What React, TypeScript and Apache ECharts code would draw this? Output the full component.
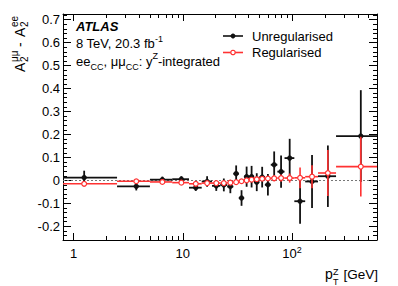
import React, { useEffect, useRef } from 'react';
import * as echarts from 'echarts';

// pT(Z) bin edges [GeV]
const binEdges = [0, 2.5, 5, 8, 11.4, 14.9, 18.5, 22, 25.5, 29, 32.6, 36.4, 40.4, 44.9, 50.2, 56.4, 63.9, 73.4, 85.4, 105, 132, 173, 253, 600];
// Unregularised A2(mumu) - A2(ee)
const unregValues = [0.012, -0.026, 0.003, 0.005, -0.032, -0.005, -0.024, -0.02, -0.027, 0.029, -0.077, 0.016, 0.016, -0.008, 0.014, -0.019, 0.068, 0.038, 0.097, -0.091, -0.005, 0.018, 0.193];
const unregErrors = [0.03, 0.018, 0.013, 0.013, 0.014, 0.023, 0.022, 0.028, 0.029, 0.036, 0.034, 0.044, 0.047, 0.039, 0.045, 0.047, 0.058, 0.07, 0.084, 0.098, 0.115, 0.134, 0.2];
// Regularised
const regValues = [-0.015, -0.004, -0.007, -0.01, -0.015, -0.012, -0.012, -0.012, -0.01, -0.008, -0.004, 0.0, 0.003, 0.005, 0.007, 0.008, 0.009, 0.01, 0.01, 0.011, 0.016, 0.032, 0.06];
const regErrors = [0.012, 0.006, 0.005, 0.005, 0.006, 0.006, 0.006, 0.006, 0.007, 0.007, 0.008, 0.008, 0.009, 0.009, 0.01, 0.011, 0.013, 0.016, 0.02, 0.045, 0.05, 0.1, 0.13];

const xMajorTicks = [1, 10, 100];
const xMinorTicks = [2, 3, 4, 5, 6, 7, 8, 9, 20, 30, 40, 50, 60, 70, 80, 90, 200, 300, 400, 500, 600];
const yMajorTicks = [-0.2, -0.1, 0, 0.1, 0.2, 0.3, 0.4, 0.5, 0.6, 0.7];

const X_MIN = 0.8;
const X_MAX = 600;
const Y_MIN = -0.26;
const Y_MAX = 0.725;

const FONT = "'Liberation Sans', Arial, Helvetica, sans-serif";
const RED = '#ff3232';
const BLACK = '#111111';

function buildData(values: number[], errors: number[]) {
  return values.map((v, i) => {
    const lo = binEdges[i];
    const hi = binEdges[i + 1];
    return [(lo + hi) / 2, v, lo, hi, errors[i]];
  });
}

function makeRender(color: string, filled: boolean, lw: number) {
  return (params: any, api: any) => {
    const x = api.value(0);
    const y = api.value(1);
    const lo = Math.max(api.value(2), X_MIN);
    const hi = Math.min(api.value(3), X_MAX);
    const err = api.value(4);
    const pL = api.coord([lo, y]);
    const pR = api.coord([hi, y]);
    const pT = api.coord([x, y + err]);
    const pB = api.coord([x, y - err]);
    const c = api.coord([x, y]);
    return {
      type: 'group',
      children: [
        { type: 'line', shape: { x1: pL[0], y1: pL[1], x2: pR[0], y2: pR[1] }, style: { stroke: color, lineWidth: lw } },
        { type: 'line', shape: { x1: pT[0], y1: pT[1], x2: pB[0], y2: pB[1] }, style: { stroke: color, lineWidth: lw } },
        {
          type: 'circle',
          shape: { cx: c[0], cy: c[1], r: 2.4 },
          style: { fill: filled ? color : '#ffffff', stroke: color, lineWidth: filled ? 0.5 : 1.2 },
        },
      ],
    };
  };
}

const minorY: number[] = [];
for (let i = -13; i <= 36; i++) minorY.push(Math.round(i * 2) / 100);

function xAxisDef(position: string, major: boolean, showLine: boolean, showLabel: boolean) {
  return {
    type: 'log',
    logBase: 10,
    gridIndex: 0,
    position,
    min: X_MIN,
    max: X_MAX,
    axisLine: { show: showLine, onZero: false, lineStyle: { color: '#000', width: 1 } },
    axisTick: {
      show: true,
      inside: true,
      length: major ? 7 : 4,
      customValues: major ? xMajorTicks : xMinorTicks,
      lineStyle: { color: '#000', width: 1 },
    },
    axisLabel: showLabel
      ? {
          show: true,
          customValues: xMajorTicks,
          formatter: (v: number) => (Math.abs(v - 100) < 1e-6 ? '10{sup|2}' : String(Math.round(v))),
          color: '#000',
          fontSize: 13,
          fontFamily: FONT,
          margin: 5,
          lineHeight: 16,
          rich: { sup: { fontSize: 9, lineHeight: 12, verticalAlign: 'top', fontFamily: FONT, color: '#000' } },
        }
      : { show: false },
    splitLine: { show: false },
    minorTick: { show: false },
  };
}

function yAxisDef(position: string, major: boolean, showLine: boolean, showLabel: boolean) {
  return {
    type: 'value',
    gridIndex: 0,
    position,
    min: Y_MIN,
    max: Y_MAX,
    axisLine: { show: showLine, onZero: false, lineStyle: { color: '#000', width: 1 } },
    axisTick: {
      show: true,
      inside: true,
      length: major ? 8 : 4,
      customValues: major ? yMajorTicks : minorY,
      lineStyle: { color: '#000', width: 1 },
    },
    axisLabel: showLabel
      ? {
          show: true,
          customValues: yMajorTicks,
          formatter: (v: number) => String(Math.round(v * 10) / 10),
          color: '#000',
          fontSize: 13,
          fontFamily: FONT,
          margin: 3,
        }
      : { show: false },
    splitLine: { show: false },
    minorTick: { show: false },
  };
}

export default function App() {
  const ref = useRef<HTMLDivElement>(null);

  useEffect(() => {
    if (!ref.current) return;
    const chart = echarts.init(ref.current, undefined, { renderer: 'svg' });

    const textBase = { fill: '#000', fontFamily: FONT };

    const option: any = {
      animation: false,
      backgroundColor: '#ffffff',
      textStyle: { fontFamily: FONT },
      grid: { left: 63, right: 21, top: 14, bottom: 46, containLabel: false },
      xAxis: [
        xAxisDef('bottom', true, true, true),
        xAxisDef('bottom', false, false, false),
        xAxisDef('top', true, true, false),
        xAxisDef('top', false, false, false),
      ],
      yAxis: [
        yAxisDef('left', true, true, true),
        yAxisDef('left', false, false, false),
        yAxisDef('right', true, true, false),
        yAxisDef('right', false, false, false),
      ],
      series: [
        {
          name: 'Unregularised',
          type: 'custom',
          xAxisIndex: 0,
          yAxisIndex: 0,
          encode: { x: 0, y: 1 },
          data: buildData(unregValues, unregErrors),
          renderItem: makeRender(BLACK, true, 1.8),
          z: 3,
          markLine: {
            silent: true,
            symbol: ['none', 'none'],
            label: { show: false },
            lineStyle: { type: [2, 2], color: '#777', width: 1 },
            data: [{ yAxis: 0 }],
            z: 1,
          },
        },
        {
          name: 'Regularised',
          type: 'custom',
          xAxisIndex: 0,
          yAxisIndex: 0,
          encode: { x: 0, y: 1 },
          data: buildData(regValues, regErrors),
          renderItem: makeRender(RED, false, 1.6),
          z: 4,
        },
      ],
      graphic: [
        // y-axis title (rotated)
        {
          type: 'group',
          x: 25,
          y: 72,
          rotation: Math.PI / 2,
          children: [
            { type: 'text', x: 0, y: -4.9, style: { ...textBase, text: 'A', fontSize: 14, align: 'left', verticalAlign: 'middle' } },
            { type: 'text', x: 10, y: -10.5, style: { ...textBase, text: 'μμ', fontSize: 10, align: 'left', verticalAlign: 'middle' } },
            { type: 'text', x: 10, y: -0.5, style: { ...textBase, text: '2', fontSize: 10, align: 'left', verticalAlign: 'middle' } },
            { type: 'text', x: 25, y: -4.9, style: { ...textBase, text: '-', fontSize: 14, align: 'left', verticalAlign: 'middle' } },
            { type: 'text', x: 35, y: -4.9, style: { ...textBase, text: 'A', fontSize: 14, align: 'left', verticalAlign: 'middle' } },
            { type: 'text', x: 45, y: -10.5, style: { ...textBase, text: 'ee', fontSize: 10, align: 'left', verticalAlign: 'middle' } },
            { type: 'text', x: 45, y: -0.5, style: { ...textBase, text: '2', fontSize: 10, align: 'left', verticalAlign: 'middle' } },
          ],
        },
        // x-axis title
        { type: 'text', x: 325, y: 274.2, style: { ...textBase, text: 'p', fontSize: 14, align: 'left', verticalAlign: 'middle' } },
        { type: 'text', x: 333, y: 271.8, style: { ...textBase, text: 'Z', fontSize: 9, align: 'left', verticalAlign: 'middle' } },
        { type: 'text', x: 333, y: 281.5, style: { ...textBase, text: 'T', fontSize: 9, align: 'left', verticalAlign: 'middle' } },
        { type: 'text', x: 378, y: 274.2, style: { ...textBase, text: '[GeV]', fontSize: 13.5, align: 'right', verticalAlign: 'middle' } },
        // ATLAS label block
        {
          type: 'text',
          x: 76,
          y: 26,
          style: { ...textBase, text: 'ATLAS', fontSize: 13, fontWeight: 'bold', fontStyle: 'italic', align: 'left', verticalAlign: 'middle' },
        },
        {
          type: 'text',
          x: 76,
          y: 43.5,
          style: {
            ...textBase,
            text: '8 TeV, 20.3 fb{sup|-1}',
            fontSize: 13,
            lineHeight: 18,
            align: 'left',
            verticalAlign: 'middle',
            rich: { sup: { fontSize: 9, lineHeight: 10, verticalAlign: 'top', fontFamily: FONT, fill: '#000' } },
          },
        },
        {
          type: 'text',
          x: 76,
          y: 61.5,
          style: {
            ...textBase,
            text: 'ee{sub|CC}, μμ{sub|CC}: y{sup|Z}-integrated',
            fontSize: 13,
            lineHeight: 20,
            align: 'left',
            verticalAlign: 'middle',
            rich: {
              sub: { fontSize: 9, lineHeight: 10, verticalAlign: 'bottom', fontFamily: FONT, fill: '#000' },
              sup: { fontSize: 9, lineHeight: 10, verticalAlign: 'top', fontFamily: FONT, fill: '#000' },
            },
          },
        },
        // Legend
        { type: 'line', shape: { x1: 223, y1: 36, x2: 243, y2: 36 }, style: { stroke: BLACK, lineWidth: 1.6 } },
        { type: 'circle', shape: { cx: 233, cy: 36, r: 2.2 }, style: { fill: BLACK, stroke: BLACK, lineWidth: 0.5 } },
        { type: 'text', x: 252, y: 36, style: { ...textBase, text: 'Unregularised', fontSize: 13, align: 'left', verticalAlign: 'middle' } },
        { type: 'line', shape: { x1: 223, y1: 52.5, x2: 243, y2: 52.5 }, style: { stroke: RED, lineWidth: 1.6 } },
        { type: 'circle', shape: { cx: 233, cy: 52.5, r: 2.2 }, style: { fill: '#fff', stroke: RED, lineWidth: 1.2 } },
        { type: 'text', x: 252, y: 52, style: { ...textBase, text: 'Regularised', fontSize: 13, align: 'left', verticalAlign: 'middle' } },
      ],
    };

    chart.setOption(option);
    return () => {
      chart.dispose();
    };
  }, []);

  return <div ref={ref} style={{ position: 'fixed', left: 0, top: 0, width: 398, height: 286, background: '#fff' }} />;
}
